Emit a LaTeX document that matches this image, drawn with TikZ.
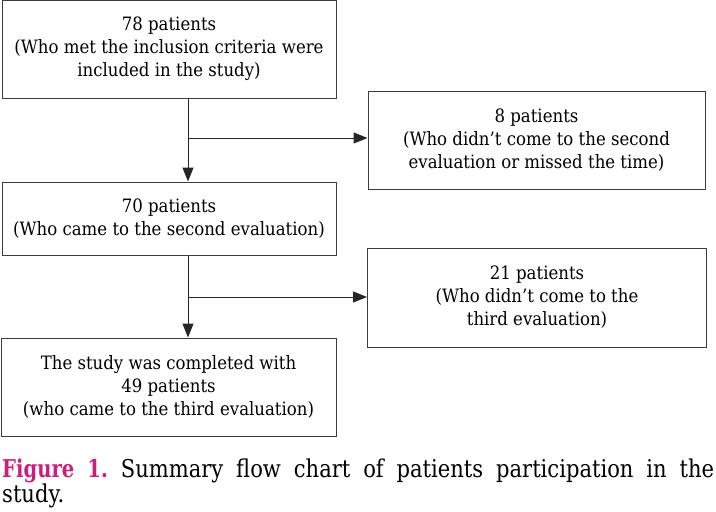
\documentclass[tikz,border=0pt]{standalone}
\usepackage{fontspec}
\setmainfont{DejaVu Serif}[FakeStretch=0.9]
\newfontfamily\capfont{DejaVu Serif}[FakeStretch=0.86]
\newfontfamily\capboldfont{DejaVu Serif Bold}[FakeStretch=0.8]
\usetikzlibrary{arrows.meta}
\definecolor{figpink}{RGB}{204,30,124}
\definecolor{boxline}{RGB}{60,60,60}
\tikzset{
  box/.style={draw=boxline, line width=1pt, align=center, inner sep=2pt,
    font=\fontsize{18.4}{23}\selectfont},
  arr/.style={draw=black!85, line width=1pt, -{Triangle[length=14pt,width=11pt]}},
  captext/.style={anchor=base west, inner sep=0pt, font=\capfont\fontsize{24.5}{28}\selectfont}
}
\begin{document}
\begin{tikzpicture}[x=1pt,y=-1pt]
\useasboundingbox (0,0) rectangle (716,512);
\node[box, minimum width=334pt, minimum height=98pt] (b1) at (169,49)
  {78 patients\\(Who met the inclusion criteria were\\included in the study)};
\node[box, minimum width=337pt, minimum height=98pt] (b2) at (536.5,140)
  {8 patients\\(Who didn't come to the second\\evaluation or missed the time)};
\node[box, minimum width=334pt, minimum height=73pt] (b3) at (169,218.5)
  {70 patients\\(Who came to the second evaluation)};
\node[box, minimum width=339pt, minimum height=99pt] (b4) at (537,297.5)
  {21 patients\\(Who didn't come to the\\third evaluation)};
\node[box, minimum width=335pt, minimum height=98pt] (b5) at (168.5,387)
  {The study was completed with\\49 patients\\(who came to the third evaluation)};
\coordinate (j1) at (188,138);
\coordinate (j2) at (188,297);
\draw[arr] (b1.south -| j1) -- (b3.north -| j1);
\draw[arr] (j1) -- (j1 -| b2.west);
\draw[arr] (b3.south -| j2) -- (b5.north -| j2);
\draw[arr] (j2) -- (j2 -| b4.west);
\node[captext] (cap1) at (2,477)
  {\makebox[712pt][s]{\textcolor{figpink}{\capboldfont Figure 1.}\ Summary flow chart of patients participation in the}};
\node[captext] (cap2) at (2,502) {study.};
\end{tikzpicture}
\end{document}
